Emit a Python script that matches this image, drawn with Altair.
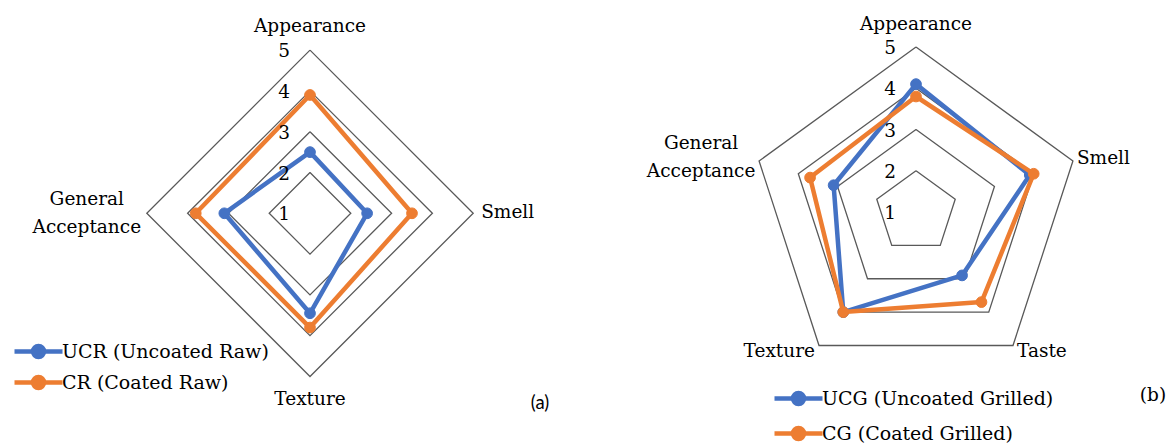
import altair as alt
import pandas as pd

# Sensory attributes, clockwise from the top, and mean panel scores
raw_axes = ["Appearance", "Smell", "Texture", "General Acceptance"]
raw_series = ["UCR (Uncoated Raw)", "CR (Coated Raw)"]
ucr_scores = [2.5, 2.4, 3.45, 3.1]
cr_scores = [3.9, 3.5, 3.8, 3.8]

grilled_axes = ["Appearance", "Smell", "Taste", "Texture", "General Acceptance"]
grilled_series = ["UCG (Uncoated Grilled)", "CG (Coated Grilled)"]
ucg_scores = [4.1, 3.9, 2.9, 4.0, 3.1]
cg_scores = [3.8, 4.0, 3.7, 4.0, 3.7]

score_levels = [1, 2, 3, 4, 5]
series_colors = ["#4472C4", "#ED7D31"]

SERIF = "DejaVu Serif"
GRID = "#595959"
# legend glyph: a short line with a dot in the middle
LEGEND_GLYPH = "M-2,0L2,0M0.46,0A0.46,0.46,0,1,1,-0.46,0A0.46,0.46,0,1,1,0.46,0Z"


def polar(chart, field):
    """Turn (idx, n, value) into cartesian coordinates; the centre is score 1."""
    return chart.transform_calculate(
        ang="2 * PI * datum.idx / datum.n",
        rad=f"datum.{field} - 1",
    ).transform_calculate(
        px="datum.rad * sin(datum.ang)",
        py="datum.rad * cos(datum.ang)",
    )


def radar_panel(axes, names, scores, width, height, xdom, ydom,
                label_layout, legend_pos, row_pad, label_offset, tag, tag_pos, tag_font):
    n = len(axes)
    series_rows = []
    for name, vals in zip(names, scores):
        for k in range(n + 1):
            i = k % n
            series_rows.append({"series": name, "axis": axes[i], "idx": i,
                                "n": n, "score": vals[i], "ord": k})
    series_df = pd.DataFrame(series_rows)
    ring_df = pd.DataFrame([{"level": lv, "idx": k % n, "n": n, "ord": k}
                            for lv in score_levels for k in range(n + 1)])
    tick_df = pd.DataFrame({"level": score_levels, "idx": 0, "n": 1})
    label_df = pd.DataFrame({"axis": axes, "idx": list(range(n)), "n": n,
                             "level": max(score_levels)})

    x = alt.X("px:Q", scale=alt.Scale(domain=xdom, nice=False, zero=False), axis=None)
    y = alt.Y("py:Q", scale=alt.Scale(domain=ydom, nice=False, zero=False), axis=None)

    legend = alt.Legend(
        title=None, orient="none", legendX=legend_pos[0], legendY=legend_pos[1],
        symbolType=LEGEND_GLYPH, symbolSize=576, symbolStrokeWidth=4.5,
        labelFont=SERIF, labelFontSize=19, labelColor="#000000",
        labelOffset=label_offset, labelLimit=0, rowPadding=row_pad, padding=0,
    )
    stroke_scale = alt.Scale(domain=names, range=series_colors)

    rings = polar(alt.Chart(ring_df), "level").mark_line(
        color=GRID, strokeWidth=1.3
    ).encode(x=x, y=y, detail="level:N", order="ord:Q")

    layers = [rings]
    for name in names:
        base = polar(alt.Chart(series_df), "score").transform_filter(
            alt.datum.series == name)
        line = base.mark_line(strokeWidth=4.5, strokeJoin="round").encode(
            x=x, y=y, order="ord:Q",
            stroke=alt.Stroke("series:N", scale=stroke_scale, legend=legend),
        )
        dots = base.transform_filter(alt.datum.ord < n).mark_point(
            filled=True, size=115, opacity=1, strokeWidth=1
        ).encode(
            x=x, y=y,
            fill=alt.Fill("series:N", scale=stroke_scale, legend=legend),
            stroke=alt.Stroke("series:N", scale=stroke_scale, legend=legend),
        )
        layers += [line, dots]

    ticks = polar(alt.Chart(tick_df), "level").mark_text(
        align="right", baseline="middle", dx=-20, dy=1,
        font=SERIF, fontSize=18.5, color="#000000",
    ).encode(x=x, y=y, text="level:Q")
    layers.append(ticks)

    for axis_name, (align, dx, dy) in label_layout.items():
        lbl = polar(alt.Chart(label_df), "level").transform_filter(
            alt.datum.axis == axis_name
        ).mark_text(
            align=align, baseline="middle", dx=dx, dy=dy, lineBreak=" ",
            lineHeight=28, font=SERIF, fontSize=18.5, color="#000000",
        ).encode(x=x, y=y, text="axis:N")
        layers.append(lbl)

    tag_layer = alt.Chart(pd.DataFrame({"tag": [tag]})).mark_text(
        align="center", baseline="middle", font=tag_font, fontSize=18.5, color="#000000",
    ).encode(x=alt.value(tag_pos[0]), y=alt.value(tag_pos[1]), text="tag:N")
    layers.append(tag_layer)

    return alt.layer(*layers).properties(width=width, height=height).resolve_scale(
        stroke="shared", fill="shared")


ua = 40.8
panel_a = radar_panel(
    raw_axes, raw_series, [ucr_scores, cr_scores],
    width=585, height=444,
    xdom=[-310 / ua, 275 / ua], ydom=[-(444 - 213.3) / ua, 213.3 / ua],
    label_layout={
        "Appearance": ("center", 0, -24),
        "Smell": ("left", 8, -1),
        "Texture": ("center", 0, 22),
        "General Acceptance": ("center", -60, -14),
    },
    legend_pos=(24, 337), row_pad=0, label_offset=9,
    tag="(a)", tag_pos=(540, 403), tag_font="Lato",
)

ub = 41.25
panel_b = radar_panel(
    grilled_axes, grilled_series, [ucg_scores, cg_scores],
    width=584, height=444,
    xdom=[-331 / ub, 253 / ub], ydom=[-232 / ub, 212 / ub],
    label_layout={
        "Appearance": ("center", 0, -23),
        "Smell": ("left", 4, -3),
        "Taste": ("left", 4, 6),
        "Texture": ("right", -4, 6),
        "General Acceptance": ("center", -58, -18),
    },
    legend_pos=(199, 384), row_pad=4, label_offset=9,
    tag="(b)", tag_pos=(568, 395), tag_font=SERIF,
)

chart = alt.hconcat(panel_a, panel_b, spacing=0).resolve_scale(
    stroke="independent", fill="independent"
).resolve_legend(
    stroke="independent", fill="independent"
).properties(
    padding=0, background="white"
).configure_view(stroke=None)

chart.save("out.html", embed_options={"renderer": "svg", "actions": False})
